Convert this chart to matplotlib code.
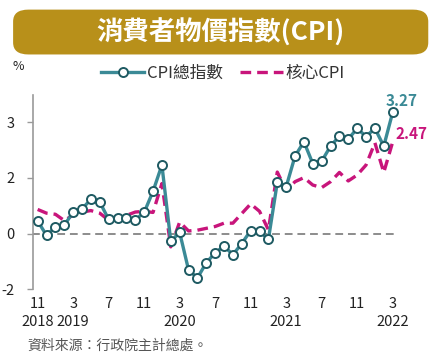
import matplotlib
matplotlib.use('Agg')
import matplotlib.pyplot as plt
from matplotlib.patches import FancyBboxPatch
from matplotlib.lines import Line2D

plt.rcParams['font.family'] = ['Noto Sans CJK TC', 'DejaVu Sans']

# 2018/11 ~ 2022/03 月資料 (年增率 %)
months = ['2018-11', '2018-12',
          '2019-01', '2019-02', '2019-03', '2019-04', '2019-05', '2019-06',
          '2019-07', '2019-08', '2019-09', '2019-10', '2019-11', '2019-12',
          '2020-01', '2020-02', '2020-03', '2020-04', '2020-05', '2020-06',
          '2020-07', '2020-08', '2020-09', '2020-10', '2020-11', '2020-12',
          '2021-01', '2021-02', '2021-03', '2021-04', '2021-05', '2021-06',
          '2021-07', '2021-08', '2021-09', '2021-10', '2021-11', '2021-12',
          '2022-01', '2022-02', '2022-03']
cpi = [0.34, -0.05,
       0.18, 0.22, 0.58, 0.66, 0.93, 0.85, 0.38, 0.43, 0.43, 0.37, 0.57, 1.14,
       1.85, -0.21, 0.03, -0.98, -1.20, -0.79, -0.52, -0.34, -0.57, -0.27, 0.08, 0.06,
       -0.16, 1.38, 1.26, 2.09, 2.48, 1.89, 1.95, 2.36, 2.63, 2.55, 2.84, 2.62,
       2.84, 2.36, 3.27]
core = [0.65, 0.55,
        0.52, 0.35, 0.50, 0.58, 0.62, 0.55, 0.36, 0.40, 0.49, 0.58, 0.60, 0.57,
        1.35, -0.36, 0.31, 0.07, 0.09, 0.14, 0.19, 0.28, 0.28, 0.54, 0.80, 0.60,
        0.10, 1.66, 1.17, 1.40, 1.51, 1.31, 1.24, 1.40, 1.65, 1.42, 1.58, 1.85,
        2.45, 1.65, 2.47]
tick_idx = [0, 4, 8, 12, 16, 20, 24, 28, 32, 36, 40]
tick_lbl = ['11\n2018', '3\n2019', '7', '11', '3\n2020', '7', '11',
            '3\n2021', '7', '11', '3\n2022']
ytick_vals = [-1.5, 0, 1.5, 3]
ytick_lbl = ['-2', '0', '2', '3']

teal = '#3B8A96'
teal_edge = '#1E5A62'
magenta = '#C8157B'
grey = '#9A9A9A'

fig = plt.figure(figsize=(4.37, 3.56), dpi=100)

# 標題橫幅
banner = FancyBboxPatch((0.030, 0.847), 0.950, 0.126,
                        boxstyle='round,pad=0,rounding_size=0.035',
                        transform=fig.transFigure, facecolor='#B8901A',
                        edgecolor='none', mutation_aspect=0.95)
fig.patches.append(banner)
fig.text(0.505, 0.908, '消費者物價指數(CPI)', ha='center', va='center',
         color='white', fontsize=19, fontweight='bold')

ax = fig.add_axes([0.0748, 0.188, 0.909, 0.545])
x = list(range(len(months)))

ax.hlines(0, -0.6, len(months) - 0.6, colors='#8C8C8C', linestyles=(0, (4, 2.5)),
          linewidth=1.4, zorder=1)
ax.plot(x, core, color=magenta, linewidth=2.4, dashes=(3.2, 1.8), zorder=2)
ax.plot(x, cpi, color=teal, linewidth=2.4, marker='o', markersize=6.5,
        markerfacecolor='white', markeredgecolor=teal_edge, markeredgewidth=1.4,
        zorder=3)

ax.text(x[-1] + 1.0, cpi[-1] + 0.32, f'{cpi[-1]:.2f}', color=teal, fontsize=11,
        fontweight='bold', ha='center', va='center', clip_on=False)
ax.text(x[-1] + 2.1, core[-1] + 0.22, f'{core[-1]:.2f}', color=magenta, fontsize=11,
        fontweight='bold', ha='center', va='center', clip_on=False)

ax.set_xlim(-0.56, 44.2)
ax.set_ylim(-1.5, 3.74)
ax.set_xticks(tick_idx)
ax.set_xticklabels(tick_lbl, fontsize=10.5, color='#222222', linespacing=1.35)
ax.set_yticks(ytick_vals)
ax.set_yticklabels(ytick_lbl, fontsize=10.5, color='#222222')
ax.tick_params(axis='x', length=0, pad=6)
ax.tick_params(axis='y', length=4, width=1, color=grey, pad=9)
for s in ['top', 'right', 'bottom']:
    ax.spines[s].set_visible(False)
ax.spines['left'].set_color(grey)
ax.spines['left'].set_linewidth(1.2)
ax.patch.set_alpha(0)

fig.text(0.041, 0.813, '%', fontsize=9, ha='center', va='center', color='#222222')

h1 = Line2D([], [], color=teal, linewidth=2.4, marker='o', markersize=6.5,
            markerfacecolor='white', markeredgecolor=teal_edge, markeredgewidth=1.4)
h2 = Line2D([], [], color=magenta, linewidth=2.4, dashes=(3.2, 1.8))
fig.legend([h1, h2], ['CPI總指數', '核心CPI'], loc='center', ncol=2,
           bbox_to_anchor=(0.51, 0.795), frameon=False, fontsize=12,
           handlelength=2.6, handletextpad=0.15, columnspacing=1.0,
           labelcolor='#333333')

fig.text(0.062, 0.028, '資料來源：行政院主計總處。', fontsize=10, color='#555555',
         ha='left', va='center')

fig.savefig('out.png', dpi=100)
